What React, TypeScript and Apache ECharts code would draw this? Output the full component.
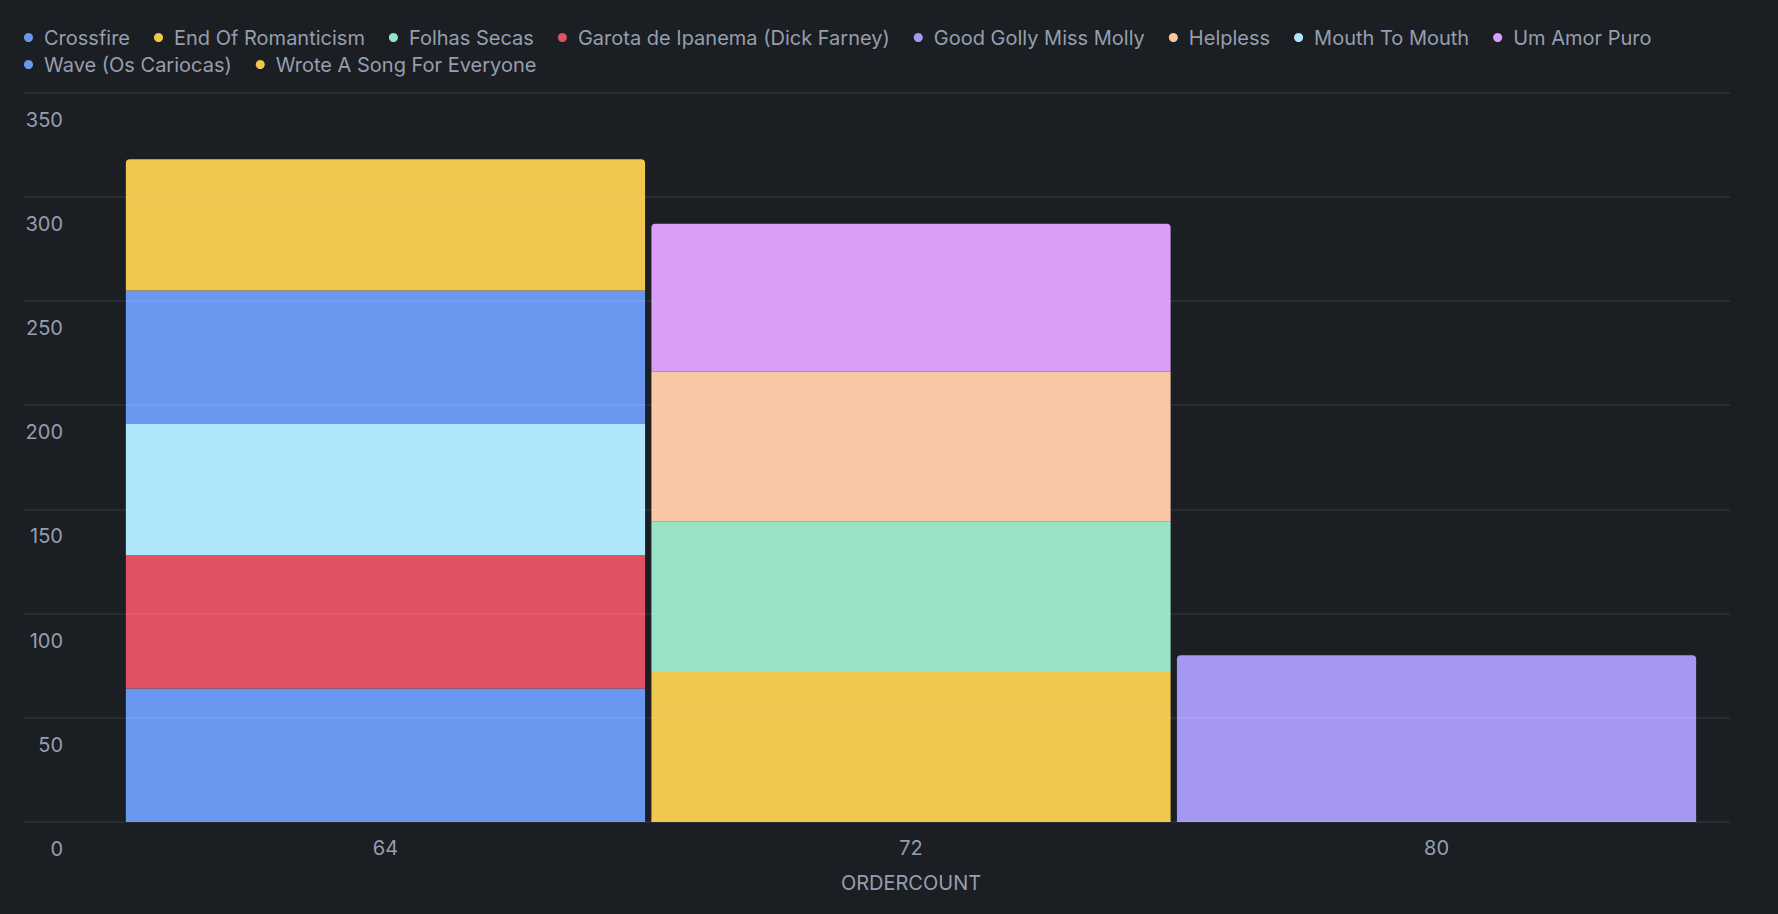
import React, { useEffect, useRef } from "react";
import * as echarts from "echarts";

const categories = ["64", "72", "80"];
const seriesNames = [
  "Crossfire",
  "End Of Romanticism",
  "Folhas Secas",
  "Garota de Ipanema (Dick Farney)",
  "Good Golly Miss Molly",
  "Helpless",
  "Mouth To Mouth",
  "Um Amor Puro",
  "Wave (Os Cariocas)",
  "Wrote A Song For Everyone",
];
const crossfire = [64, null, null];
const endOfRomanticism = [null, 72, null];
const folhasSecas = [null, 72, null];
const garota = [64, null, null];
const goodGolly = [null, null, 80];
const helpless = [null, 72, null];
const mouthToMouth = [63, null, null];
const umAmorPuro = [null, 71, null];
const wave = [64, null, null];
const wroteASong = [63, null, null];
const seriesValues = [
  crossfire,
  endOfRomanticism,
  folhasSecas,
  garota,
  goodGolly,
  helpless,
  mouthToMouth,
  umAmorPuro,
  wave,
  wroteASong,
];
const yTicks = [0, 50, 100, 150, 200, 250, 300, 350];

const palette = [
  "#6a98f0",
  "#f0c74f",
  "#98e3c6",
  "#e05163",
  "#a598f1",
  "#f8c7a4",
  "#aee6fc",
  "#da9df8",
];

const TEXT = "#959eae";
const FONT = "Inter, 'Noto Sans', sans-serif";

export default function App() {
  const ref = useRef<HTMLDivElement>(null);
  useEffect(() => {
    document.body.style.margin = "0";
    document.body.style.background = "#1b1e23";
    const chart = echarts.init(ref.current!, null, { renderer: "svg" });
    const yMax = yTicks[yTicks.length - 1];
    const yInterval = yTicks[1] - yTicks[0];

    const topIdx = categories.map((_, c) => {
      let t = -1;
      seriesValues.forEach((vals, s) => {
        if (vals[c] != null) t = s;
      });
      return t;
    });

    const series = seriesNames.map((name, s) => ({
      name,
      type: "bar",
      stack: "total",
      xAxisIndex: 1,
      yAxisIndex: 1,
      barCategoryGap: "1.2%",
      itemStyle: { color: palette[s % palette.length] },
      data: seriesValues[s].map((v, c) =>
        v == null
          ? "-"
          : {
              value: v,
              itemStyle: {
                borderRadius: topIdx[c] === s ? [4, 4, 0, 0] : 0,
              },
            }
      ),
    }));

    const legendBase = {
      left: 24,
      padding: 0,
      icon: "circle",
      itemWidth: 21,
      itemHeight: 9,
      itemGap: 24,
      textStyle: {
        color: TEXT,
        fontSize: 20,
        fontFamily: FONT,
      },
    };

    chart.setOption({
      animation: false,
      backgroundColor: "#1b1e23",
      color: palette,
      textStyle: { fontFamily: FONT },
      legend: [
        { ...legendBase, top: 27.5, data: seriesNames.slice(0, 8) },
        { ...legendBase, top: 54.5, data: seriesNames.slice(8) },
      ],
      grid: [
        { left: 24, right: 48, top: 92.5, bottom: 92 },
        { left: 122.7, right: 78.7, top: 92.5, bottom: 92 },
      ],
      xAxis: [
        {
          gridIndex: 0,
          type: "category",
          data: categories,
          show: false,
        },
        {
          gridIndex: 1,
          type: "category",
          data: categories,
          axisLine: { show: false },
          axisTick: { show: false },
          axisLabel: {
            color: TEXT,
            fontSize: 20,
            margin: 16,
            fontFamily: FONT,
          },
          name: "ORDERCOUNT",
          nameLocation: "middle",
          nameGap: 51,
          nameTextStyle: { color: TEXT, fontSize: 20, fontFamily: FONT },
        },
      ],
      yAxis: [
        {
          gridIndex: 0,
          type: "value",
          min: 0,
          max: yMax,
          interval: yInterval,
          z: 10,
          axisLine: { show: false },
          axisTick: { show: false },
          splitLine: {
            show: true,
            lineStyle: { color: "rgba(255,255,255,0.08)", width: 1.5 },
          },
          axisLabel: {
            color: TEXT,
            fontSize: 20,
            margin: -39,
            align: "right",
            verticalAlign: "top",
            lineHeight: 20,
            padding: [17, 0, 0, 0],
            fontFamily: FONT,
          },
        },
        {
          gridIndex: 1,
          type: "value",
          min: 0,
          max: yMax,
          interval: yInterval,
          show: false,
          splitLine: { show: false },
        },
      ],
      series,
    });
    return () => chart.dispose();
  }, []);
  return <div ref={ref} style={{ width: 1778, height: 914 }} />;
}
